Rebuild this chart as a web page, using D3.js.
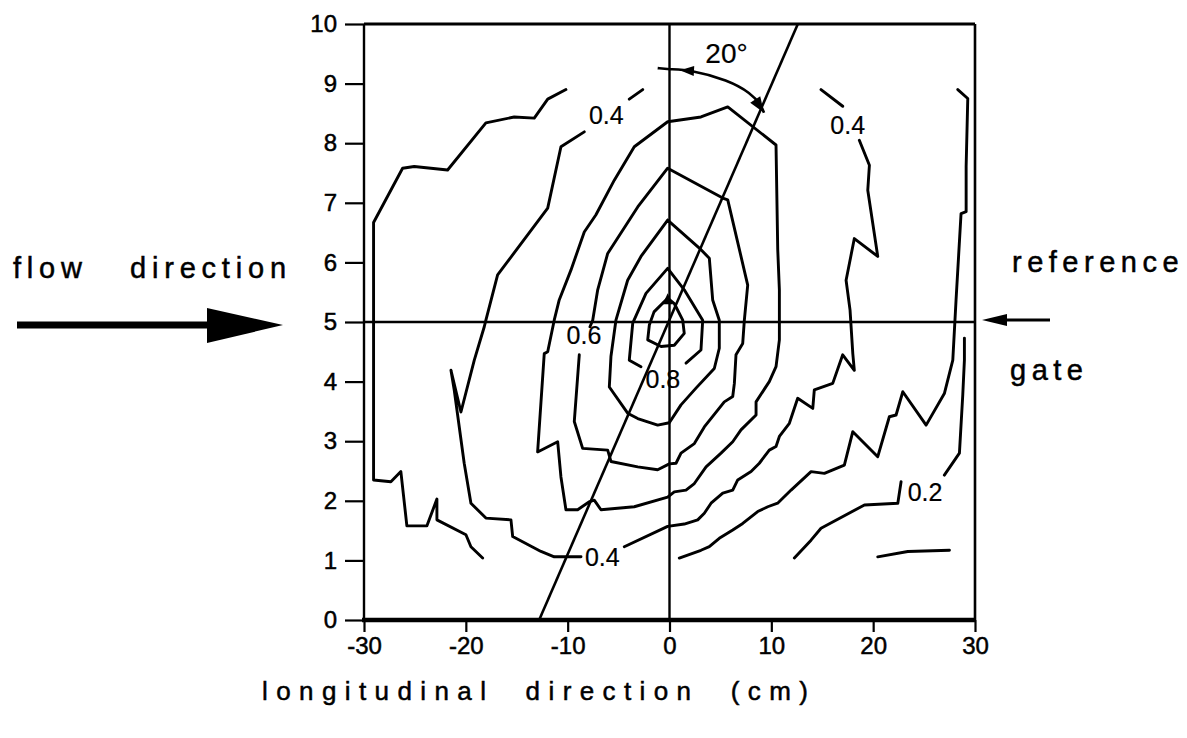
<!DOCTYPE html>
<html>
<head>
<meta charset="utf-8">
<script src="https://cdn.jsdelivr.net/npm/d3@7"></script>
<style>
  body { margin: 0; background: #fff; }
  svg { display: block; }
  text { font-family: "Liberation Sans", Arial, Helvetica, sans-serif; fill: #000; stroke: #000; stroke-width: 0.5px; }
</style>
</head>
<body>
<svg id="chart" width="1187" height="738"></svg>
<script>
// Axis ticks
const xTicks = [-30, -20, -10, 0, 10, 20, 30];
const yTicks = [0, 1, 2, 3, 4, 5, 6, 7, 8, 9, 10];

// Iso-lines of the measured field, [longitudinal cm, transverse cm]; null marks a gap left for a label
const level01 = [[20.45, 1.06], [23.40, 1.15], [27.49, 1.17]];

const level02 = [[28.96, 4.73], [28.96, 4.36], [28.80, 3.78], [28.47, 2.80], [26.99, 2.43], null,
  [22.74, 2.32], [22.42, 1.96], [19.14, 1.93], [14.88, 1.54], [13.90, 1.34], [12.26, 1.04]];

const level03Left = [[-10.17, 8.90], [-11.96, 8.74], [-13.28, 8.42], [-15.25, 8.44], [-18.03, 8.34],
  [-21.79, 7.55], [-25.07, 7.61], [-26.21, 7.58], [-29.06, 6.67], [-29.06, 2.35], [-27.36, 2.32],
  [-26.38, 2.49], [-25.79, 1.58], [-23.82, 1.58], [-22.84, 2.03], [-22.84, 1.68], [-19.99, 1.43],
  [-19.50, 1.23], [-18.35, 1.04]];

const level03Right = [[0.96, 1.04], [3.09, 1.17], [3.91, 1.23], [4.89, 1.37], [6.21, 1.51], [7.19, 1.62],
  [8.66, 1.82], [9.65, 1.90], [10.62, 1.96], [11.94, 2.18], [13.90, 2.49], [15.21, 2.46], [17.17, 2.60],
  [18.00, 3.16], [20.45, 2.74], [21.59, 3.41], [22.25, 3.44], [22.91, 3.83], [25.20, 3.27], [26.99, 3.80],
  [27.82, 4.36], [28.14, 5.37], [28.63, 6.82], [29.13, 6.85], [29.13, 7.61], [29.29, 8.75], [28.31, 8.90]];

const level04 = [[-2.63, 8.90], [-3.95, 8.74], null,
  [-8.37, 8.19], [-10.66, 7.94], [-11.96, 6.91], [-16.88, 5.79], [-18.03, 5.03], [-18.19, 4.92],
  [-19.17, 4.36], [-20.48, 3.49], [-21.46, 4.19], [-21.14, 3.86], [-20.16, 2.63], [-19.50, 1.96],
  [-18.03, 1.71], [-15.57, 1.68], [-15.40, 1.40], [-12.62, 1.15], [-11.32, 1.06], [-8.69, 1.06], null,
  [-4.44, 1.23], [-0.18, 1.57], [1.45, 1.61], [2.77, 1.68], [3.42, 1.79], [4.08, 1.96], [5.23, 2.13],
  [6.21, 2.18], [6.70, 2.35], [8.01, 2.49], [8.82, 2.63], [9.80, 2.85], [10.46, 2.91], [10.79, 3.08],
  [11.77, 3.30], [12.59, 3.72], [14.07, 3.55], [14.22, 3.86], [16.03, 3.97], [17.01, 4.45], [18.15, 4.19],
  [18.00, 4.47], [17.73, 5.20], [17.34, 5.70], [18.15, 6.40], [20.45, 6.10], [19.47, 7.21], [19.63, 7.63],
  [18.64, 8.05], null,
  [17.01, 8.62], [14.88, 8.90]];

const level05 = [[-0.18, 8.36], [-3.46, 7.94], [-5.42, 7.38], [-7.22, 6.80], [-8.37, 6.51], [-9.68, 5.87],
  [-10.83, 5.37], [-11.32, 5.03], [-11.96, 4.50], [-12.30, 4.47], [-12.95, 2.82], [-10.98, 2.99],
  [-10.66, 2.40], [-10.17, 1.85], [-9.02, 1.85], [-7.91, 1.98], [-7.39, 2.01], [-6.73, 1.85],
  [-3.46, 1.90], [-0.18, 2.06], [0.47, 2.15], [1.62, 2.18], [2.44, 2.29], [3.59, 2.57], [5.06, 2.80],
  [6.21, 2.99], [7.02, 3.19], [8.50, 3.44], [8.50, 3.66], [9.80, 4.00], [10.46, 4.25], [10.79, 4.70],
  [10.79, 5.54], [10.63, 6.21], [10.46, 7.97], [5.72, 8.61], [3.09, 8.44], [-0.18, 8.36]];

const level06 = [[-8.86, 4.45], [-9.35, 3.33], [-8.53, 2.88], [-6.07, 2.85], [-5.75, 2.66], [-3.12, 2.57],
  [-1.16, 2.52], [-0.02, 2.62], [0.64, 2.63], [1.13, 2.80], [2.44, 2.96], [3.42, 3.24], [5.38, 3.66],
  [6.21, 3.75], [6.37, 3.97], [6.53, 4.45], [7.19, 4.64], [7.35, 5.03], [7.68, 5.62], [5.72, 7.05],
  [5.23, 7.08], [-0.18, 7.58], [-3.12, 6.93], [-6.07, 6.15], [-7.05, 5.54], [-7.54, 5.03], [-7.81, 4.92]];

const level07 = [[-0.18, 6.71], [-2.80, 6.10], [-4.11, 5.70], [-5.26, 5.03], [-5.75, 4.42], [-5.91, 3.91],
  [-4.11, 3.47], [-3.12, 3.38], [-1.16, 3.27], [-0.02, 3.31], [1.13, 3.61], [2.60, 3.89], [4.40, 4.22],
  [4.89, 4.56], [4.89, 5.03], [4.24, 5.37], [3.91, 6.07], [2.93, 6.24], [-0.18, 6.71]];

const level08 = [[-2.80, 4.25], [-3.95, 4.36], [-3.61, 4.98], [-2.31, 5.48], [-0.18, 5.90], [1.45, 5.54],
  [3.26, 5.03], [3.09, 4.53], [1.62, 4.31]];

const level09 = [[-0.18, 5.40], [-1.52, 5.17], [-1.98, 4.95], [-2.14, 4.70], [-0.83, 4.59], [0.47, 4.61],
  [1.45, 4.81], [1.30, 5.03], [0.47, 5.31], [-0.18, 5.40]];

const isoLines = [level01, level02, level03Left, level03Right, level04, level05, level06, level07, level08, level09];

// Peak marker at the top of the innermost loop
const peak = [-0.18, 5.40];

// Level labels: text and the point where each sits
const labelTexts = ["0.4", "0.4", "0.6", "0.8", "0.4", "0.2"];
const labelX = [-6.2, 17.5, -8.4, -0.65, -6.6, 25.1];
const labelY = [8.48, 8.30, 4.79, 4.04, 1.06, 2.15];

// Gate reference lines and the 20 degree jet axis through the gate centre
const gateX = 0;
const gateY = 5;
const jetAxis = [[-12.8, 0], [12.6, 10]];
const angleArc = [[-1.16, 9.26], [-0.15, 9.24], [2.11, 9.23], [5.72, 9.06], [8.01, 8.84], [8.99, 8.64], [9.28, 8.51]];
const angleText = "20°";
const angleTextPos = [5.6, 9.5];

const svg = d3.select("#chart");
const x = d3.scaleLinear().domain([-30, 30]).range([364, 975]);
const y = d3.scaleLinear().domain([0, 10]).range([620, 24]);

const line = d3.line()
  .defined(d => d !== null)
  .x(d => x(d[0]))
  .y(d => y(d[1]));

// Axes (plain hyphen for negatives)
const fmt = d => String(d);
const gx = svg.append("g").attr("transform", `translate(0,${y(0)})`)
  .call(d3.axisBottom(x).tickValues(xTicks).tickFormat(fmt).tickSize(12).tickSizeOuter(0).tickPadding(5));
const gy = svg.append("g").attr("transform", `translate(${x(-30)},0)`)
  .call(d3.axisLeft(y).tickValues(yTicks).tickFormat(fmt).tickSize(19).tickSizeOuter(0).tickPadding(8));
[gx, gy].forEach(g => {
  g.select(".domain").remove();
  g.selectAll(".tick line").attr("stroke", "#000").attr("stroke-width", 2.2);
  g.selectAll(".tick text").attr("font-size", 24).attr("fill", "#000")
    .attr("font-family", '"Liberation Sans", Arial, sans-serif');
});

// Plot frame
const frame = svg.append("g").attr("stroke", "#000").attr("fill", "none");
frame.append("line").attr("x1", x(-30)).attr("x2", x(30)).attr("y1", y(10)).attr("y2", y(10)).attr("stroke-width", 2.8);
frame.append("line").attr("x1", x(-30)).attr("x2", x(-30)).attr("y1", y(10)).attr("y2", y(0)).attr("stroke-width", 2.4);
frame.append("line").attr("x1", x(30)).attr("x2", x(30)).attr("y1", y(10)).attr("y2", y(0)).attr("stroke-width", 2.6);
frame.append("line").attr("x1", x(-30) - 2).attr("x2", x(30) + 1).attr("y1", y(0)).attr("y2", y(0)).attr("stroke-width", 4.5);

// Gate cross lines
frame.append("line").attr("x1", x(gateX)).attr("x2", x(gateX)).attr("y1", y(10)).attr("y2", y(0)).attr("stroke-width", 2.4);
frame.append("line").attr("x1", x(-30)).attr("x2", x(30)).attr("y1", y(gateY)).attr("y2", y(gateY)).attr("stroke-width", 2.6);

// Jet axis
frame.append("path").attr("d", line(jetAxis)).attr("stroke-width", 2.6);

// Iso-lines
svg.append("g").selectAll("path").data(isoLines).join("path")
  .attr("d", line)
  .attr("fill", "none")
  .attr("stroke", "#000")
  .attr("stroke-width", 2.9)
  .attr("stroke-linejoin", "round")
  .attr("stroke-linecap", "round");

// Small upward marker at the peak
const pk = [x(peak[0]), y(peak[1])];
svg.append("polygon").attr("points", [[pk[0], pk[1] - 5], [pk[0] - 5, pk[1] + 6], [pk[0] + 5, pk[1] + 6]].join(" ")).attr("fill", "#000");

// Level labels
svg.append("g").selectAll("text").data(labelTexts).join("text")
  .attr("x", (d, i) => x(labelX[i]))
  .attr("y", (d, i) => y(labelY[i]))
  .attr("text-anchor", "middle")
  .attr("dominant-baseline", "central")
  .attr("font-size", 25)
  .style("stroke-width", "0.2px")
  .text(d => d);

// Angle arc with arrowheads at both ends
frame.append("path").attr("d", d3.line().curve(d3.curveBasis).x(d => x(d[0])).y(d => y(d[1]))(angleArc)).attr("stroke-width", 2.6);
function arrowHead(tip, from, len, half) {
  const dx = tip[0] - from[0], dy = tip[1] - from[1];
  const L = Math.hypot(dx, dy), ux = dx / L, uy = dy / L;
  const bx = tip[0] - ux * len, by = tip[1] - uy * len;
  return [[tip[0], tip[1]], [bx - uy * half, by + ux * half], [bx + uy * half, by - ux * half]];
}
const pA = angleArc.map(d => [x(d[0]), y(d[1])]);
svg.append("polygon").attr("points", arrowHead([pA[1][0] + 12, pA[1][1] + 1], [pA[2][0] + 20, pA[2][1] + 2], 14, 5).join(" ")).attr("fill", "#000");
svg.append("polygon").attr("points", arrowHead(pA[pA.length - 1], pA[pA.length - 3], 16, 6).join(" ")).attr("fill", "#000");
svg.append("text").attr("x", x(angleTextPos[0])).attr("y", y(angleTextPos[1])).attr("font-size", 28)
  .attr("text-anchor", "middle").attr("dominant-baseline", "central").style("stroke-width", "0.2px").text(angleText);

// Flow direction arrow on the left
const ya = y(gateY) + 3;
svg.append("line").attr("x1", 17).attr("x2", 212).attr("y1", ya).attr("y2", ya).attr("stroke", "#000").attr("stroke-width", 7);
svg.append("polygon").attr("points", [[207, ya - 17], [283, ya], [207, ya + 18]].join(" ")).attr("fill", "#000");
svg.append("text").attr("x", 13).attr("y", 278).attr("font-size", 29).attr("letter-spacing", 5.8).text("flow");
svg.append("text").attr("x", 130).attr("y", 278).attr("font-size", 29).attr("letter-spacing", 5.8).text("direction");

// Reference gate arrow on the right
const yr = y(gateY) - 2;
svg.append("line").attr("x1", 1000).attr("x2", 1050).attr("y1", yr).attr("y2", yr).attr("stroke", "#000").attr("stroke-width", 3);
svg.append("polygon").attr("points", [[982, yr], [1007, yr - 6], [1007, yr + 6]].join(" ")).attr("fill", "#000");
svg.append("text").attr("x", 1012).attr("y", 272).attr("font-size", 29).attr("letter-spacing", 5.5).text("reference");
svg.append("text").attr("x", 1010).attr("y", 380).attr("font-size", 29).attr("letter-spacing", 5.5).text("gate");

// Axis title
svg.append("text").attr("x", 262).attr("y", 700).attr("font-size", 26).attr("letter-spacing", 8.4)
  .attr("xml:space", "preserve").style("white-space", "pre").text("longitudinal  direction  (cm)");
</script>
</body>
</html>
